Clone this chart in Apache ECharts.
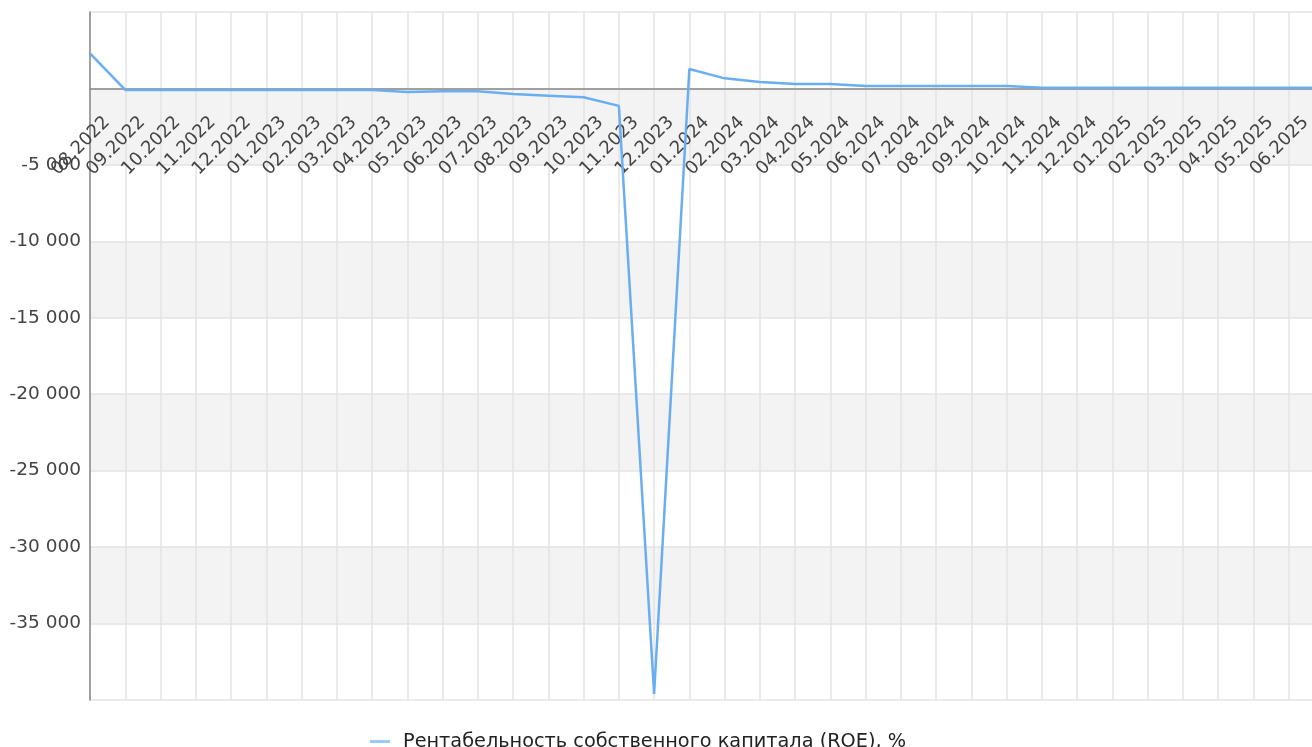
<!DOCTYPE html>
<html>
<head>
<meta charset="utf-8">
<script src="https://cdn.jsdelivr.net/npm/echarts@6/dist/echarts.min.js"></script>
<style>
html,body{margin:0;padding:0;background:#fff;}
#chart{width:1312px;height:747px;}
</style>
</head>
<body>
<div id="chart"></div>
<script>
const categories = ['08.2022','09.2022','10.2022','11.2022','12.2022','01.2023','02.2023','03.2023','04.2023','05.2023','06.2023','07.2023','08.2023','09.2023','10.2023','11.2023','12.2023','01.2024','02.2024','03.2024','04.2024','05.2024','06.2024','07.2024','08.2024','09.2024','10.2024','11.2024','12.2024','01.2025','02.2025','03.2025','04.2025','05.2025','06.2025','07.2025'];
const roeValues = [2300,-100,-100,-100,-100,-100,-100,-100,-100,-230,-190,-190,-360,-470,-580,-1140,-39600,1270,660,420,290,290,160,160,160,160,160,50,50,50,50,50,50,50,50,50];
const seriesName = 'Рентабельность собственного капитала (ROE), %';
const hiddenLabels = ['07.2025'];
const yMin = -40000, yMax = 5000, yStep = 5000;

const fmtNum = v => {
  const s = Math.abs(v).toString().replace(/\B(?=(\d{3})+(?!\d))/g, ' ');
  return (v < 0 ? '-' : '') + s;
};

const gridTop = 12, gridBottom = 47, H = 747;
const gridH = H - gridTop - gridBottom;
const zeroOffset = -gridH * (0 - yMin) / (yMax - yMin);

const chart = echarts.init(document.getElementById('chart'));
chart.setOption({
  animation: false,
  textStyle: { fontFamily: 'DejaVu Sans' },
  grid: { left: 90, top: gridTop, bottom: gridBottom, width: 1234, outerBoundsMode: 'none', containLabel: false },
  xAxis: {
    type: 'category',
    data: categories,
    boundaryGap: false,
    offset: zeroOffset,
    axisLine: { onZero: false, lineStyle: { color: '#888', width: 1.5 } },
    axisTick: { show: false },
    axisLabel: {
      interval: 0,
      rotate: 45,
      margin: 48,
      padding: [0, -24, 0, 0],
      fontSize: 18,
      color: '#444',
      fontFamily: 'DejaVu Sans',
      formatter: v => hiddenLabels.includes(v) ? '' : v
    },
    splitLine: { show: true, interval: 0, lineStyle: { color: '#e3e3e3', width: 1.5 } }
  },
  yAxis: {
    type: 'value',
    min: yMin,
    max: yMax,
    interval: yStep,
    axisLine: { show: true, lineStyle: { color: '#888', width: 1.5 } },
    axisTick: { show: false },
    axisLabel: {
      margin: 9,
      fontSize: 18.5,
      color: '#444',
      fontFamily: 'DejaVu Sans',
      formatter: v => (v === 0 || v === yMax || v === yMin) ? '' : fmtNum(v)
    },
    splitLine: { lineStyle: { color: '#e3e3e3', width: 1.5 } },
    splitArea: { show: true, areaStyle: { color: ['#ffffff', '#f3f3f3'] } }
  },
  legend: {
    top: 727,
    left: 365,
    icon: 'rect',
    itemWidth: 20,
    itemHeight: 3,
    itemGap: 10,
    textStyle: { fontSize: 19.3, color: '#222', fontFamily: 'DejaVu Sans', padding: [0, 0, 0, 8] },
    data: [{ name: seriesName, itemStyle: { color: '#9ccaf2' } }]
  },
  series: [{
    name: seriesName,
    type: 'line',
    data: roeValues,
    symbol: 'none',
    lineStyle: { color: '#6aaef2', width: 2.5 },
    itemStyle: { color: '#6aaef2' }
  }]
});
</script>
</body>
</html>
